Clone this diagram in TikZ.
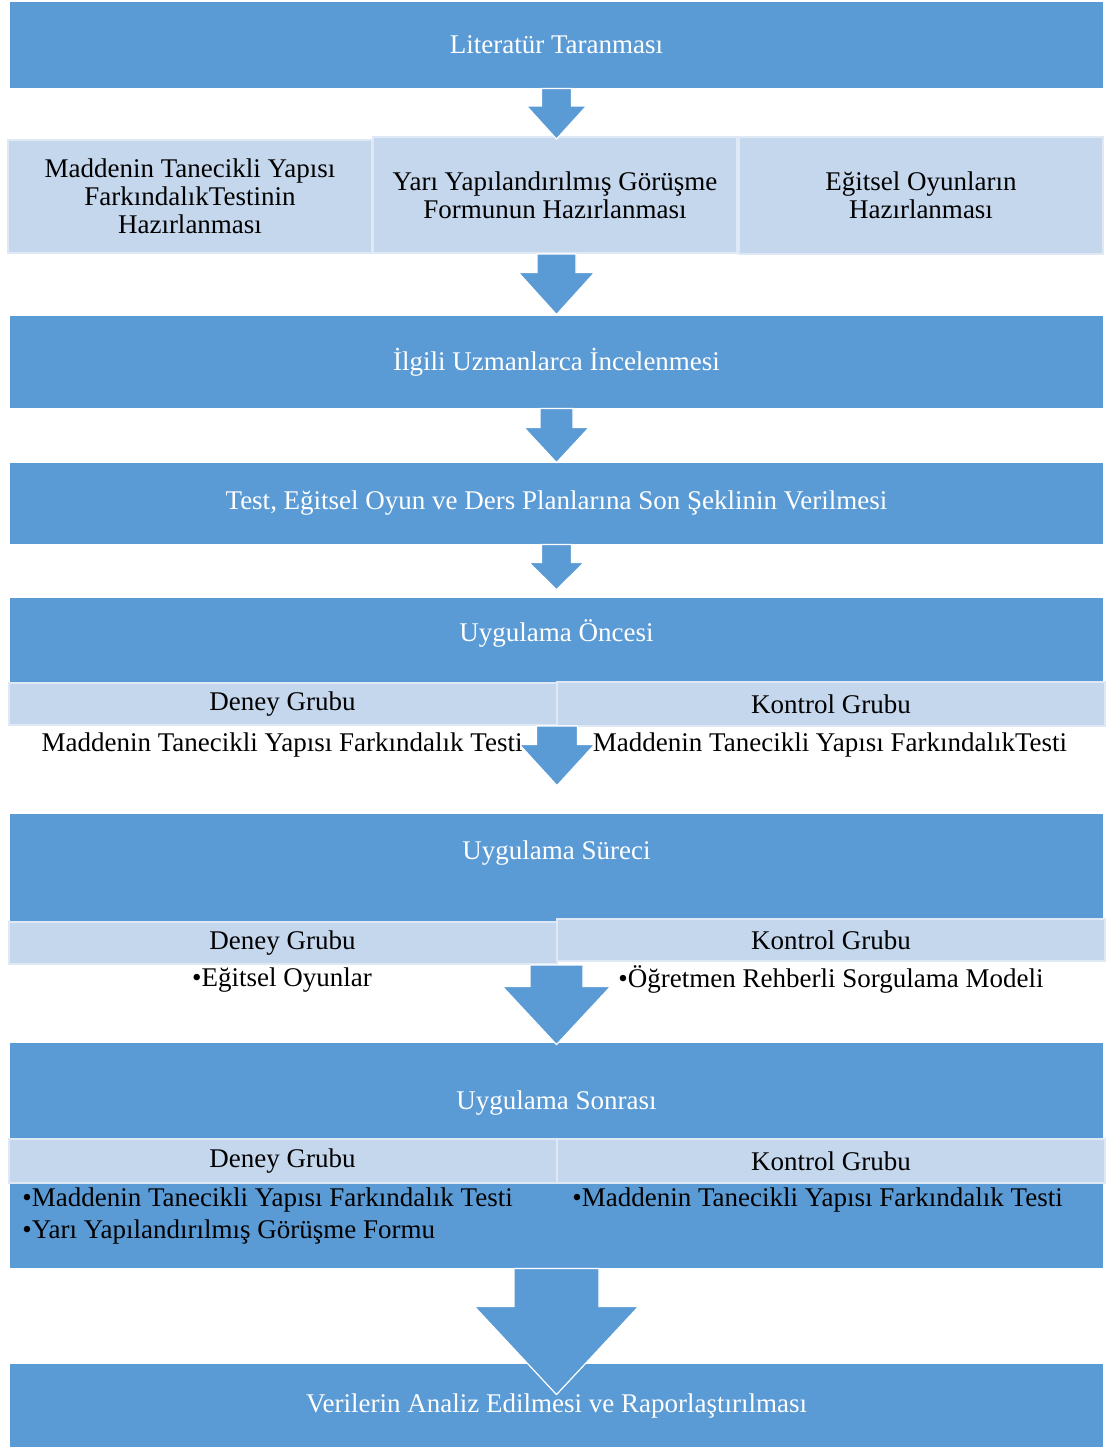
\documentclass[tikz,border=0pt]{standalone}
\usepackage{fontspec}
\setmainfont{Liberation Serif}
\usepackage{tikz}
\usetikzlibrary{calc}

\definecolor{boxblue}{RGB}{91,155,213}
\definecolor{lightblue}{RGB}{197,215,237}

% block arrow: start, tip, shaft half width, head half width, head length
\newcommand{\flowarrow}[5]{%
  \path[flowarrow] let \p1=#1, \p2=#2 in
    (\x2-#3,\y1) -- (\x2+#3,\y1) -- (\x2+#3,\y2+#5) -- (\x2+#4,\y2+#5)
    -- (\x2,\y2) -- (\x2-#4,\y2+#5) -- (\x2-#3,\y2+#5) -- cycle;}

\begin{document}
\begin{tikzpicture}[
    x=0.5pt, y=-0.5pt,
    every node/.style={font=\fontsize{13.5}{14}\selectfont},
    mainbox/.style={rectangle, fill=boxblue, text=white, inner sep=0pt, minimum width=546.5pt},
    prepbox/.style={rectangle, fill=lightblue, draw=lightblue!55!white, line width=1pt, text=black, align=center, inner sep=0pt, minimum width=182pt, minimum height=57pt},
    groupbox/.style={rectangle, fill=lightblue, draw=lightblue!55!white, line width=1pt, text=black, inner sep=0pt, minimum width=274pt, minimum height=21pt},
    titletext/.style={text=white, inner sep=0pt},
    itemtext/.style={text=black, inner sep=0pt, align=left, font=\fontsize{13.5}{16}\selectfont},
    flowarrow/.style={fill=boxblue, draw=white, line width=0.6pt}
]
\useasboundingbox (0,0) rectangle (1105,1447);

% Literature
\node[mainbox, minimum height=43pt] (lit) at (556.5,45) {Literatür Taranması};

% preparation boxes
\node[prepbox, minimum height=56.5pt] (prep-test) at (190,196.5) {Maddenin Tanecikli Yapısı\\FarkındalıkTestinin\\Hazırlanması};
\node[prepbox, minimum height=58pt] (prep-form) at (555,195) {Yarı Yapılandırılmış Görüşme\\Formunun Hazırlanması};
\node[prepbox, minimum height=58.5pt] (prep-game) at (921,195.5) {Eğitsel Oyunların\\Hazırlanması};

% expert review
\node[mainbox, minimum height=46pt] (uzman) at (556.5,362) {İlgili Uzmanlarca İncelenmesi};

% final form
\node[mainbox, minimum height=40.5pt] (son) at (556.5,503.5) {Test, Eğitsel Oyun ve Ders Planlarına Son Şeklinin Verilmesi};

% Uygulama Oncesi
\node[mainbox, minimum height=42pt] (once) at (556.5,640) {};
\node[titletext] (once-title) at (556.5,633) {Uygulama Öncesi};
\node[groupbox] (once-deney) at (282.5,704) {Deney Grubu};
\node[groupbox, minimum height=22pt] (once-kontrol) at (831,704) {Kontrol Grubu};

% Uygulama Sureci
\node[mainbox, minimum height=54pt] (surec) at (556.5,868) {};
\node[titletext] (surec-title) at (556.5,853) {Uygulama Süreci};
\node[groupbox] (surec-deney) at (282.5,943) {Deney Grubu};
\node[groupbox] (surec-kontrol) at (831,940) {Kontrol Grubu};

% Uygulama Sonrasi
\node[mainbox, minimum height=112.5pt] (sonra) at (556.5,1155.5) {};
\node[titletext] (sonra-title) at (556.5,1103) {Uygulama Sonrası};
\node[groupbox, minimum height=22pt] (sonra-deney) at (282.5,1161) {Deney Grubu};
\node[groupbox, minimum height=22pt] (sonra-kontrol) at (831,1161) {Kontrol Grubu};
\node[itemtext, anchor=west] (sonra-dlist) at (22,1216) {•Maddenin Tanecikli Yapısı Farkındalık Testi\\•Yarı Yapılandırılmış Görüşme Formu};
\node[itemtext, anchor=west] (sonra-klist) at (572,1200) {•Maddenin Tanecikli Yapısı Farkındalık Testi};

% Analysis
\node[mainbox, minimum height=41.5pt] (analiz) at (556.5,1405.5) {Verilerin Analiz Edilmesi ve Raporlaştırılması};

% arrows
\flowarrow{(lit.south)}{($(prep-form.north)+(1.5,3)$)}{7.5pt}{15pt}{16.5pt}
\flowarrow{(prep-form.south)}{($(uzman.north)+(0,-1)$)}{9.75pt}{19pt}{21pt}
\flowarrow{(uzman.south)}{(son.north)}{8.25pt}{16.25pt}{17.5pt}
\flowarrow{(son.south)}{($(once.north)+(0,-8)$)}{7.5pt}{13.75pt}{13.5pt}
\flowarrow{(once-deney.south)}{($(surec.north)+(0.5,-28)$)}{10.25pt}{18.75pt}{20.5pt}
\flowarrow{(surec-deney.south)}{($(sonra.north)+(0,2)$)}{13.25pt}{27pt}{29pt}
\flowarrow{(sonra.south)}{($(analiz.north)+(0,31)$)}{21.25pt}{41pt}{44pt}

% group contents
\node[itemtext] (once-dtext) at (282,745) {Maddenin Tanecikli Yapısı Farkındalık Testi};
\node[itemtext] (once-ktext) at (830,745) {Maddenin Tanecikli Yapısı FarkındalıkTesti};
\node[itemtext] (surec-dtext) at (282,980) {•Eğitsel Oyunlar};
\node[itemtext] (surec-ktext) at (831,979) {•Öğretmen Rehberli Sorgulama Modeli};

\end{tikzpicture}
\end{document}
